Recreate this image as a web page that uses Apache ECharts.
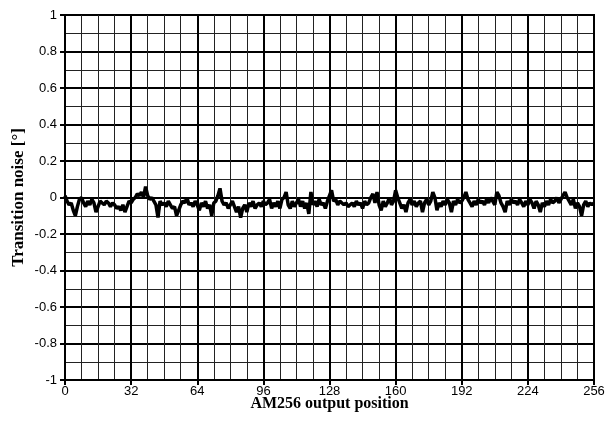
<!DOCTYPE html>
<html>
<head>
<meta charset="utf-8">
<script src="https://cdn.jsdelivr.net/npm/echarts@6/dist/echarts.min.js"></script>
<style>html,body{margin:0;padding:0;background:#fff;}#c{width:613px;height:431px;}</style>
</head>
<body>
<div id="c"></div>
<script>
var xTitle = 'AM256 output position';
var yTitle = 'Transition noise [°]';
var noise = [
  0.01, -0.02, -0.04, -0.03, -0.07, -0.1, -0.05, -0.01, 0.0, -0.03, -0.05, -0.02, -0.04, -0.01, -0.03, -0.08,
  -0.05, -0.02, -0.03, -0.04, -0.02, -0.03, -0.05, -0.03, -0.04, -0.06, -0.05, -0.07, -0.04, -0.08, -0.05, -0.02,
  -0.03, -0.01, 0.0, 0.02, 0.01, 0.03, 0.0, 0.06, 0.01, -0.01, 0.0, -0.02, -0.04, -0.11, -0.02, -0.04,
  -0.03, -0.05, -0.02, -0.04, -0.06, -0.05, -0.1, -0.07, -0.04, -0.02, -0.03, 0.0, -0.04, -0.03, -0.05, -0.02,
  -0.04, -0.07, -0.03, -0.05, -0.02, -0.06, -0.04, -0.1, -0.03, -0.02, 0.01, 0.05, -0.02, -0.04, -0.03, -0.06,
  -0.04, -0.02, -0.05, -0.08, -0.05, -0.11, -0.06, -0.04, -0.08, -0.03, -0.05, -0.02, -0.06, -0.04, -0.03, -0.05,
  -0.02, -0.04, -0.03, -0.01, -0.06, -0.03, -0.05, -0.02, -0.06, -0.01, 0.0, 0.03, -0.04, -0.06, -0.02, -0.05,
  -0.03, -0.01, -0.05, -0.02, -0.06, -0.03, -0.09, 0.03, -0.04, -0.02, -0.05, -0.01, -0.04, -0.03, -0.06, -0.02,
  0.01, 0.04, -0.02, -0.01, -0.04, -0.02, -0.03, -0.04, -0.03, -0.05, -0.04, -0.03, -0.05, -0.02, -0.04, -0.03,
  -0.06, -0.02, -0.04, -0.03, 0.0, 0.02, -0.03, 0.03, -0.04, -0.07, -0.02, -0.05, -0.03, 0.0, -0.04, -0.02,
  0.04, 0.0, -0.03, -0.06, -0.04, -0.08, -0.03, -0.01, -0.04, -0.02, -0.05, -0.03, -0.02, -0.08, -0.03, -0.01,
  -0.04, -0.02, 0.03, 0.0, -0.07, -0.03, -0.05, -0.02, -0.04, -0.01, -0.03, -0.08, -0.02, -0.04, -0.01, -0.03,
  -0.02, 0.0, 0.03, -0.01, -0.03, -0.05, -0.02, -0.04, -0.01, -0.03, -0.02, -0.04, -0.01, -0.03, 0.0, -0.02,
  -0.04, 0.03, 0.01, -0.03, -0.05, -0.08, -0.02, -0.04, -0.01, -0.03, -0.02, -0.04, -0.01, -0.03, -0.05, -0.02,
  -0.04, -0.01, -0.03, -0.06, -0.02, -0.04, -0.08, -0.03, -0.05, -0.02, -0.04, -0.01, -0.03, -0.02, 0.0, -0.03,
  -0.01, 0.01, 0.03, 0.0, -0.02, -0.04, -0.01, -0.06, -0.03, -0.05, -0.1, -0.04, -0.02, -0.05, -0.03, -0.04,
  -0.03
];
var positions = noise.map(function (v, i) { return i; });
var data = positions.map(function (p, i) { return [p, noise[i]]; });

var chart = echarts.init(document.getElementById('c'), null, {renderer: 'canvas'});
chart.setOption({
  animation: false,
  backgroundColor: '#fff',
  grid: {left: 65, top: 15, right: 19, bottom: 51, show: true, borderColor: '#000', borderWidth: 2, containLabel: false, outerBoundsMode: 'none'},
  xAxis: {
    type: 'value', min: 0, max: 256, interval: 32,
    name: xTitle, nameLocation: 'middle', nameGap: 16, nameMoveOverlap: false,
    nameTextStyle: {fontFamily: 'Liberation Serif', fontWeight: 'bold', fontSize: 16, color: '#000'},
    axisLine: {show: true, onZero: false, lineStyle: {color: '#000', width: 2}},
    axisTick: {show: true, inside: false, length: 5, lineStyle: {color: '#000', width: 2}},
    axisLabel: {margin: 5, fontFamily: 'Liberation Sans', fontSize: 13, color: '#000'},
    splitLine: {show: true, lineStyle: {color: '#000', width: 2}},
    minorTick: {show: false, splitNumber: 4},
    minorSplitLine: {show: true, lineStyle: {color: '#222', width: 1}}
  },
  yAxis: {
    type: 'value', min: -1, max: 1, interval: 0.2,
    name: yTitle, nameLocation: 'middle', nameGap: 38, nameRotate: 90, nameMoveOverlap: false,
    nameTextStyle: {fontFamily: 'Liberation Serif', fontWeight: 'bold', fontSize: 17, color: '#000'},
    axisLine: {show: true, lineStyle: {color: '#000', width: 2}},
    axisTick: {show: true, inside: false, length: 5, lineStyle: {color: '#000', width: 2}},
    axisLabel: {margin: 8, fontFamily: 'Liberation Sans', fontSize: 13, color: '#000'},
    splitLine: {show: true, lineStyle: {color: '#000', width: 2}},
    minorTick: {show: false, splitNumber: 2},
    minorSplitLine: {show: true, lineStyle: {color: '#222', width: 1}}
  },
  series: [{
    type: 'line', data: data, showSymbol: false, symbol: 'none',
    lineStyle: {color: '#000', width: 3.5}, z: 5
  }]
});
</script>
</body>
</html>
